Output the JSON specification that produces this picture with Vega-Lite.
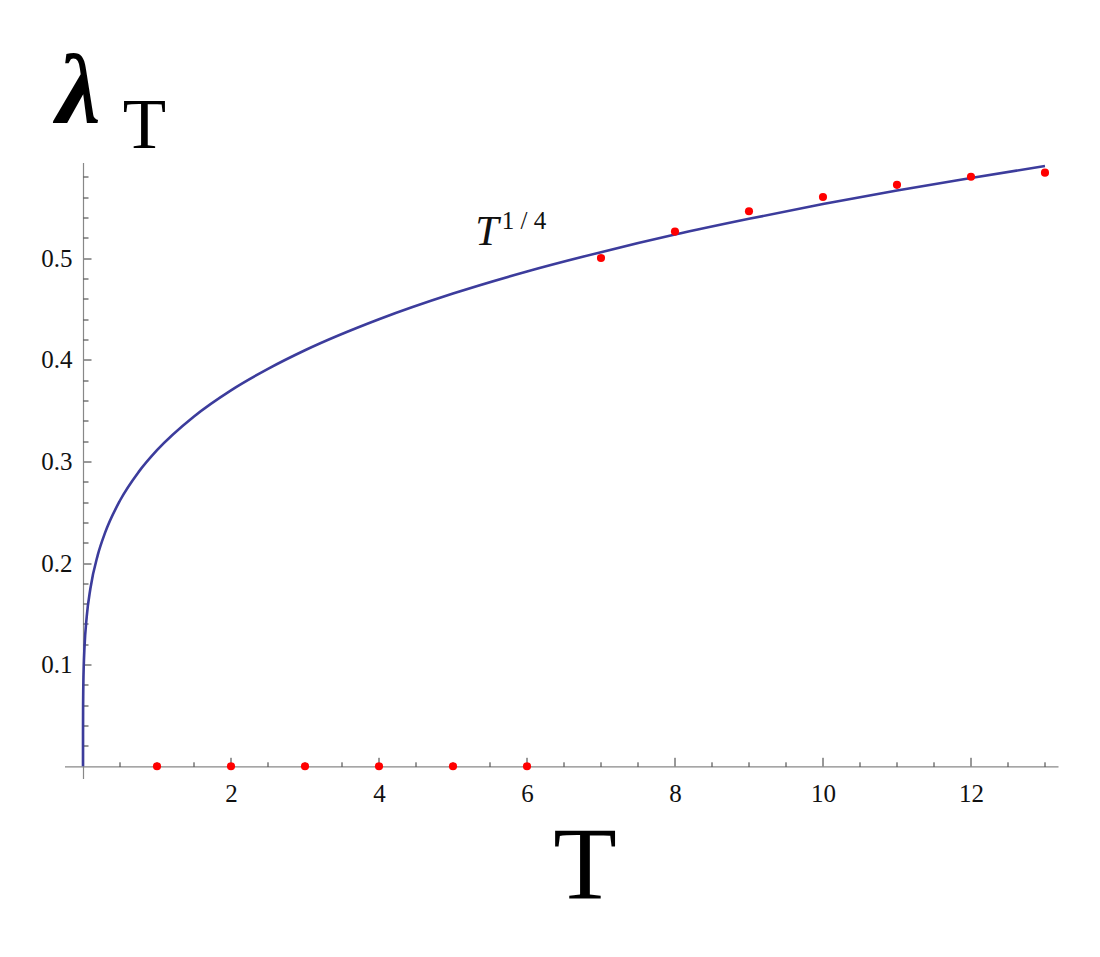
{
  "$schema": "https://vega.github.io/schema/vega-lite/v6.json",
  "width": 993.5,
  "height": 616,
  "autosize": {"type": "none"},
  "padding": {"left": 64.5, "top": 162.5, "right": 42, "bottom": 178.5},
  "background": "white",
  "config": {
    "view": {"stroke": null},
    "axis": {
      "grid": false,
      "labelFont": "Liberation Serif",
      "labelFontSize": 25,
      "labelColor": "#111",
      "tickColor": "#333",
      "tickWidth": 1,
      "domainColor": "#888",
      "domainWidth": 1.2,
      "titleFont": "Liberation Serif",
      "titleColor": "#000"
    }
  },
  "datasets": {
    "curve": [
      {"T": 0, "lam": 0},
      {"T": 0.0001, "lam": 0.0311},
      {"T": 0.001, "lam": 0.0553},
      {"T": 0.005, "lam": 0.0827},
      {"T": 0.01, "lam": 0.0983},
      {"T": 0.02, "lam": 0.117},
      {"T": 0.05, "lam": 0.1471},
      {"T": 0.1, "lam": 0.1749},
      {"T": 0.2, "lam": 0.208},
      {"T": 0.3, "lam": 0.2301},
      {"T": 0.5, "lam": 0.2615},
      {"T": 0.75, "lam": 0.2894},
      {"T": 1, "lam": 0.311},
      {"T": 1.5, "lam": 0.3442},
      {"T": 2, "lam": 0.3699},
      {"T": 2.5, "lam": 0.391},
      {"T": 3, "lam": 0.4093},
      {"T": 4, "lam": 0.4398},
      {"T": 5, "lam": 0.4651},
      {"T": 6, "lam": 0.4868},
      {"T": 7, "lam": 0.5058},
      {"T": 8, "lam": 0.5231},
      {"T": 9, "lam": 0.5386},
      {"T": 10, "lam": 0.5531},
      {"T": 11, "lam": 0.5664},
      {"T": 12, "lam": 0.5788},
      {"T": 13, "lam": 0.5905}
    ],
    "points": [
      {"T": 1, "lam": 0},
      {"T": 2, "lam": 0},
      {"T": 3, "lam": 0},
      {"T": 4, "lam": 0},
      {"T": 5, "lam": 0},
      {"T": 6, "lam": 0},
      {"T": 7, "lam": 0.5},
      {"T": 8, "lam": 0.526},
      {"T": 9, "lam": 0.546},
      {"T": 10, "lam": 0.56},
      {"T": 11, "lam": 0.572},
      {"T": 12, "lam": 0.58},
      {"T": 13, "lam": 0.584}
    ],
    "labelT": [{"T": 5.3, "lam": 0.513, "text": "T"}],
    "labelExp": [{"T": 5.66, "lam": 0.529, "text": "1 / 4"}]
  },
  "layer": [
    {
      "data": {"name": "curve"},
      "mark": {"type": "line", "color": "#3c3c9c", "strokeWidth": 2.6, "interpolate": "monotone"},
      "encoding": {
        "x": {
          "field": "T", "type": "quantitative",
          "scale": {"domain": [-0.25, 13.176], "nice": false, "zero": false},
          "axis": {
            "orient": "bottom", "offset": -12.2,
            "values": [2, 4, 6, 8, 10, 12],
            "tickSize": -9, "labelPadding": 24, "labelBaseline": "top",
            "title": "T", "titleFontSize": 104, "titleFontWeight": "normal",
            "titleX": 520, "titleY": 132, "titleAlign": "center", "titleBaseline": "alphabetic"
          }
        },
        "y": {
          "field": "lam", "type": "quantitative",
          "scale": {"domain": [-0.012, 0.594], "nice": false, "zero": false},
          "axis": {
            "orient": "left", "offset": -18.5,
            "values": [0.1, 0.2, 0.3, 0.4, 0.5],
            "format": ".1f",
            "tickSize": -8, "labelPadding": 19, "labelBaseline": "middle",
            "title": "λ", "titleAngle": 0, "titleFontSize": 100, "titleFontWeight": "bold", "titleFontStyle": "italic",
            "titleX": -5, "titleY": -40, "titleAlign": "center", "titleBaseline": "alphabetic"
          }
        }
      }
    },
    {
      "data": {"name": "points"},
      "mark": {"type": "point", "filled": true, "color": "#ff0000", "size": 66, "opacity": 1},
      "encoding": {
        "x": {
          "field": "T", "type": "quantitative",
          "axis": {
            "orient": "bottom", "offset": -12.2,
            "values": [0.5, 1, 1.5, 2.5, 3, 3.5, 4.5, 5, 5.5, 6.5, 7, 7.5, 8.5, 9, 9.5, 10.5, 11, 11.5, 12.5, 13],
            "tickSize": -4.5, "labels": false, "domain": false, "title": null
          }
        },
        "y": {
          "field": "lam", "type": "quantitative",
          "axis": {
            "orient": "left", "offset": -18.5,
            "values": [0.02, 0.04, 0.06, 0.08, 0.12, 0.14, 0.16, 0.18, 0.22, 0.24, 0.26, 0.28, 0.32, 0.34, 0.36, 0.38, 0.42, 0.44, 0.46, 0.48, 0.52, 0.54, 0.56, 0.58],
            "tickSize": -5, "labels": false, "domain": false,
            "title": "T", "titleAngle": 0, "titleFontSize": 71, "titleFontWeight": "normal",
            "titleX": 61, "titleY": -15.5, "titleAlign": "center", "titleBaseline": "alphabetic"
          }
        }
      }
    },
    {
      "data": {"name": "labelT"},
      "mark": {"type": "text", "font": "Liberation Serif", "fontStyle": "italic", "fontSize": 42, "align": "left", "baseline": "alphabetic", "color": "#111"},
      "encoding": {
        "x": {"field": "T", "type": "quantitative", "axis": null},
        "y": {"field": "lam", "type": "quantitative", "axis": null},
        "text": {"field": "text"}
      }
    },
    {
      "data": {"name": "labelExp"},
      "mark": {"type": "text", "font": "Liberation Serif", "fontSize": 25, "align": "left", "baseline": "alphabetic", "color": "#111"},
      "encoding": {
        "x": {"field": "T", "type": "quantitative", "axis": null},
        "y": {"field": "lam", "type": "quantitative", "axis": null},
        "text": {"field": "text"}
      }
    }
  ],
  "resolve": {"axis": {"x": "independent", "y": "independent"}}
}
